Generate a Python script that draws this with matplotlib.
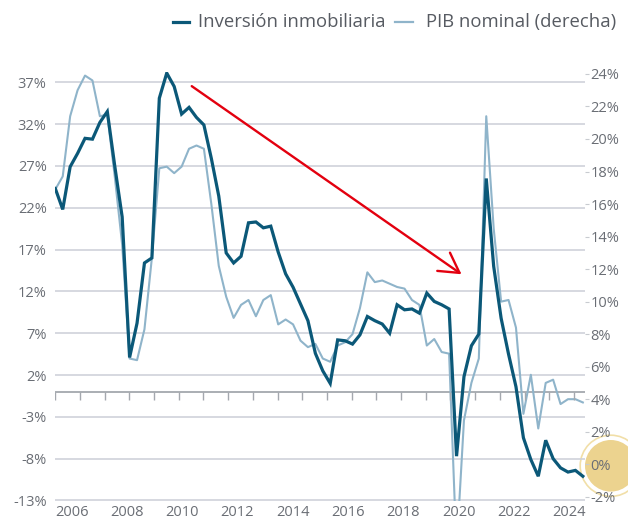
import numpy as np
import pandas as pd
import matplotlib
matplotlib.use("Agg")
import matplotlib.pyplot as plt
from matplotlib.lines import Line2D
from matplotlib.patches import Circle

plt.rcParams["font.family"] = ["Open Sans", "DejaVu Sans"]

# quarterly data, 2006Q3 .. 2024Q2 (YoY %, YTD)
quarters = pd.period_range("2006Q3", "2024Q2", freq="Q")

inversion = [
    24.3, 21.8,
    26.9, 28.5, 30.3, 30.2,
    32.2, 33.5, 27.0, 20.9,
    4.1, 8.2, 15.4, 16.0,
    35.1, 38.1, 36.5, 33.2,
    34.0, 32.8, 31.9, 27.9,
    23.4, 16.6, 15.4, 16.2,
    20.2, 20.3, 19.6, 19.8,
    16.7, 14.1, 12.5, 10.5,
    8.5, 4.6, 2.5, 1.0,
    6.2, 6.1, 5.7, 6.8,
    9.0, 8.5, 8.1, 7.0,
    10.4, 9.8, 9.9, 9.4,
    11.8, 10.8, 10.4, 9.9,
    -7.7, 1.8, 5.5, 6.9,
    25.5, 15.0, 8.8, 4.5,
    0.6, -5.5, -8.1, -10.1,
    -5.8, -8.0, -9.1, -9.6,
    -9.4, -10.1,
]

pib_nominal = [
    16.9, 17.7,
    21.4, 23.0, 23.9, 23.6,
    21.4, 21.5, 17.7, 13.5,
    6.5, 6.4, 8.3, 12.7,
    18.2, 18.3, 17.9, 18.3,
    19.4, 19.6, 19.4, 16.0,
    12.2, 10.3, 9.0, 9.8,
    10.1, 9.1, 10.1, 10.4,
    8.6, 8.9, 8.6, 7.6,
    7.2, 7.4, 6.5, 6.3,
    7.3, 7.5, 8.0, 9.6,
    11.8, 11.2, 11.3, 11.1,
    10.9, 10.8, 10.1, 9.8,
    7.3, 7.7, 6.9, 6.8,
    -5.3, 2.7, 5.0, 6.5,
    21.4, 14.5, 10.0, 10.1,
    8.4, 3.1, 5.5, 2.2,
    5.0, 5.2, 3.7, 4.0,
    4.0, 3.8,
]

year_labels = ["2006", "2008", "2010", "2012", "2014",
               "2016", "2018", "2020", "2022", "2024"]
left_ticks = np.arange(-13, 38, 5)
right_ticks = np.arange(-2, 25, 2)

DARK = "#0b5878"
LIGHT = "#8fb4ca"
GRID = "#cfd2da"
AXIS = "#a4a8ae"
TXT = "#6a6e75"
RED = "#e3000f"

W, H = 628, 522
fig = plt.figure(figsize=(W / 100, H / 100), dpi=100)
ax = fig.add_axes([55 / W, 21.5 / H, 530 / W, 428.5 / H])
ax2 = ax.twinx()
ax.set_zorder(2)
ax2.set_zorder(1)
ax.patch.set_visible(False)

x = np.arange(len(quarters))

# light series on the lower axes so the dark one sits on top
ax2.plot(x, pib_nominal, color=LIGHT, lw=1.5, zorder=3)
ax.plot(x, inversion, color=DARK, lw=2.3, zorder=3, solid_joinstyle="miter")

ax.set_xlim(-0.04, 71.29)
ax.set_ylim(-13, 38.23)
ax2.set_ylim(-2.23, 24.12)

# gridlines (left scale) drawn below both series
for v in left_ticks:
    ax2.plot([0, 1], [v, v], transform=ax.get_yaxis_transform(),
             color=GRID, lw=1.2, zorder=1)
ax2.plot([0, 1], [0, 0], transform=ax.get_yaxis_transform(),
         color=AXIS, lw=1.3, zorder=1)
tick_x = np.linspace(0, 69.8, 22)
ax.vlines(tick_x, -0.95, 0, color=AXIS, lw=1.0, zorder=1)

for a in (ax, ax2):
    for s in a.spines.values():
        s.set_visible(False)

ax.set_yticks(left_ticks, [f"{v}%" for v in left_ticks])
ax.tick_params(axis="y", length=0, pad=6, labelsize=10.5, labelcolor=TXT)
ax2.set_yticks(right_ticks, [f"{v}%" for v in right_ticks])
ax2.tick_params(axis="y", length=3, width=0.8, color="#c8cbd0", pad=1,
                labelsize=10.5, labelcolor=TXT)

year_pos = 2.19 + 7.44 * np.arange(len(year_labels))
ax.set_xticks(year_pos, year_labels)
ax.tick_params(axis="x", length=0, pad=3, labelsize=10.5, labelcolor=TXT)

# red trend arrow
ax.annotate("", xy=(0.767, 0.528), xytext=(0.258, 0.967),
            xycoords="axes fraction", textcoords="axes fraction",
            arrowprops=dict(arrowstyle="->,head_length=0.7,head_width=0.4",
                            color=RED, lw=1.7, mutation_scale=20,
                            shrinkA=0, shrinkB=0), zorder=4)

# gold badge behind the 0% label
fig.add_artist(Circle((6.108, 0.562), 0.258, transform=fig.dpi_scale_trans,
                      facecolor="#ecd38f", edgecolor="none", zorder=0.5))
fig.add_artist(Circle((6.108, 0.562), 0.306, transform=fig.dpi_scale_trans,
                      facecolor="none", edgecolor="#f1dfa8", lw=1.2, zorder=0.5))

# legend
ly = 1 - 22 / H
fig.add_artist(Line2D([173 / W, 189 / W], [ly, ly], color=DARK, lw=2.3))
fig.text(198 / W, ly, "Inversión inmobiliaria", fontsize=13.3,
         color="#575b62", va="center")
fig.add_artist(Line2D([395 / W, 413 / W], [ly, ly], color=LIGHT, lw=1.6))
fig.text(426 / W, ly, "PIB nominal (derecha)", fontsize=13.3,
         color="#575b62", va="center")

fig.savefig("out.png", dpi=100)
